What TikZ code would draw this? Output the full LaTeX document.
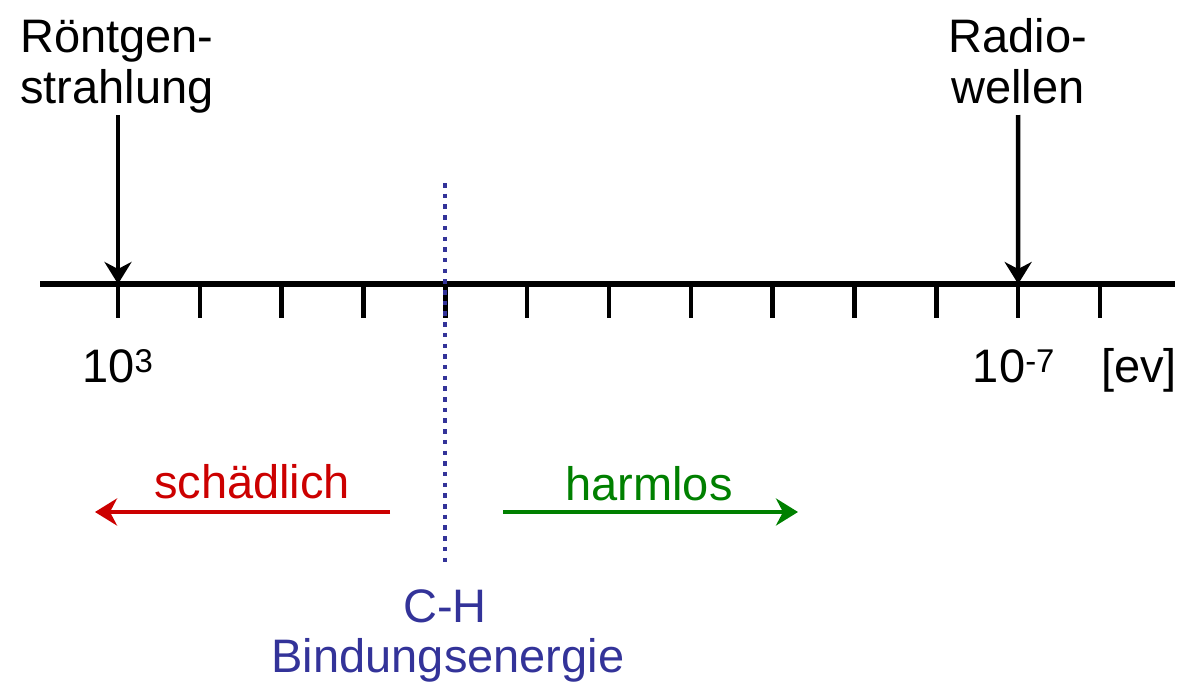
\documentclass[tikz,border=0pt]{standalone}
\usepackage{fontspec}
\setmainfont{Liberation Sans}
\usetikzlibrary{arrows.meta}
\definecolor{cred}{RGB}{204,0,0}
\definecolor{cgreen}{RGB}{0,128,0}
\definecolor{cblue}{RGB}{51,51,153}
\begin{document}
\begin{tikzpicture}[x=1pt,y=-1pt,
  lbl/.style={font=\fontsize{47}{51}\selectfont, inner sep=0pt, anchor=base},
  tickmark/.style={line width=4.5pt},
  ptr/.style={line width=4.5pt, -{Stealth[length=22pt,width=27pt,inset=7pt]}}]
\useasboundingbox (0,0) rectangle (1180,688);
% axis
\coordinate (axL) at (40,284);
\coordinate (axR) at (1175,284);
\draw[line width=5.5pt] (axL) -- (axR);
\foreach \i in {0,...,12} {
  \coordinate (t\i) at ({118+81.8333*\i},284);
  \draw[tickmark] (t\i) -- ++(0,34);
}
% top labels and arrows
\node[lbl] (r1) at (117,52) {Röntgen-};
\node[lbl] (r2) at (117,103) {strahlung};
\node[lbl] (w1) at (1018,52) {Radio-};
\node[lbl] (w2) at (1018,103) {wellen};
\coordinate (rs) at (118,115);
\coordinate (ws) at (1018,115);
\draw[ptr] (rs) -- (t0);
\draw[ptr] (ws) -- (t11);
% axis labels
\node[lbl] (l3) at (118,382) {10\textsuperscript{3}};
\node[lbl] (l7) at (1014,382) {10\textsuperscript{-7}};
\node[lbl] (unit) at (1139,382) {[ev]};
% dotted line
\coordinate (dT) at (445,183);
\coordinate (dB) at (445,568);
\draw[cblue, line width=4.5pt, dash pattern=on 4.5pt off 6.2pt] (dT) -- (dB);
% harmful / harmless
\node[lbl, text=cred] (sch) at (252,498) {schädlich};
\coordinate (sA) at (390,512);
\coordinate (sB) at (95,512);
\draw[ptr, cred] (sA) -- (sB);
\node[lbl, text=cgreen] (har) at (649,500) {harmlos};
\coordinate (hA) at (503,512);
\coordinate (hB) at (798,512);
\draw[ptr, cgreen] (hA) -- (hB);
% C-H label
\node[lbl, text=cblue] (ch) at (445,622) {C-H};
\node[lbl, text=cblue] (be) at (448,672) {Bindungsenergie};
\end{tikzpicture}
\end{document}
